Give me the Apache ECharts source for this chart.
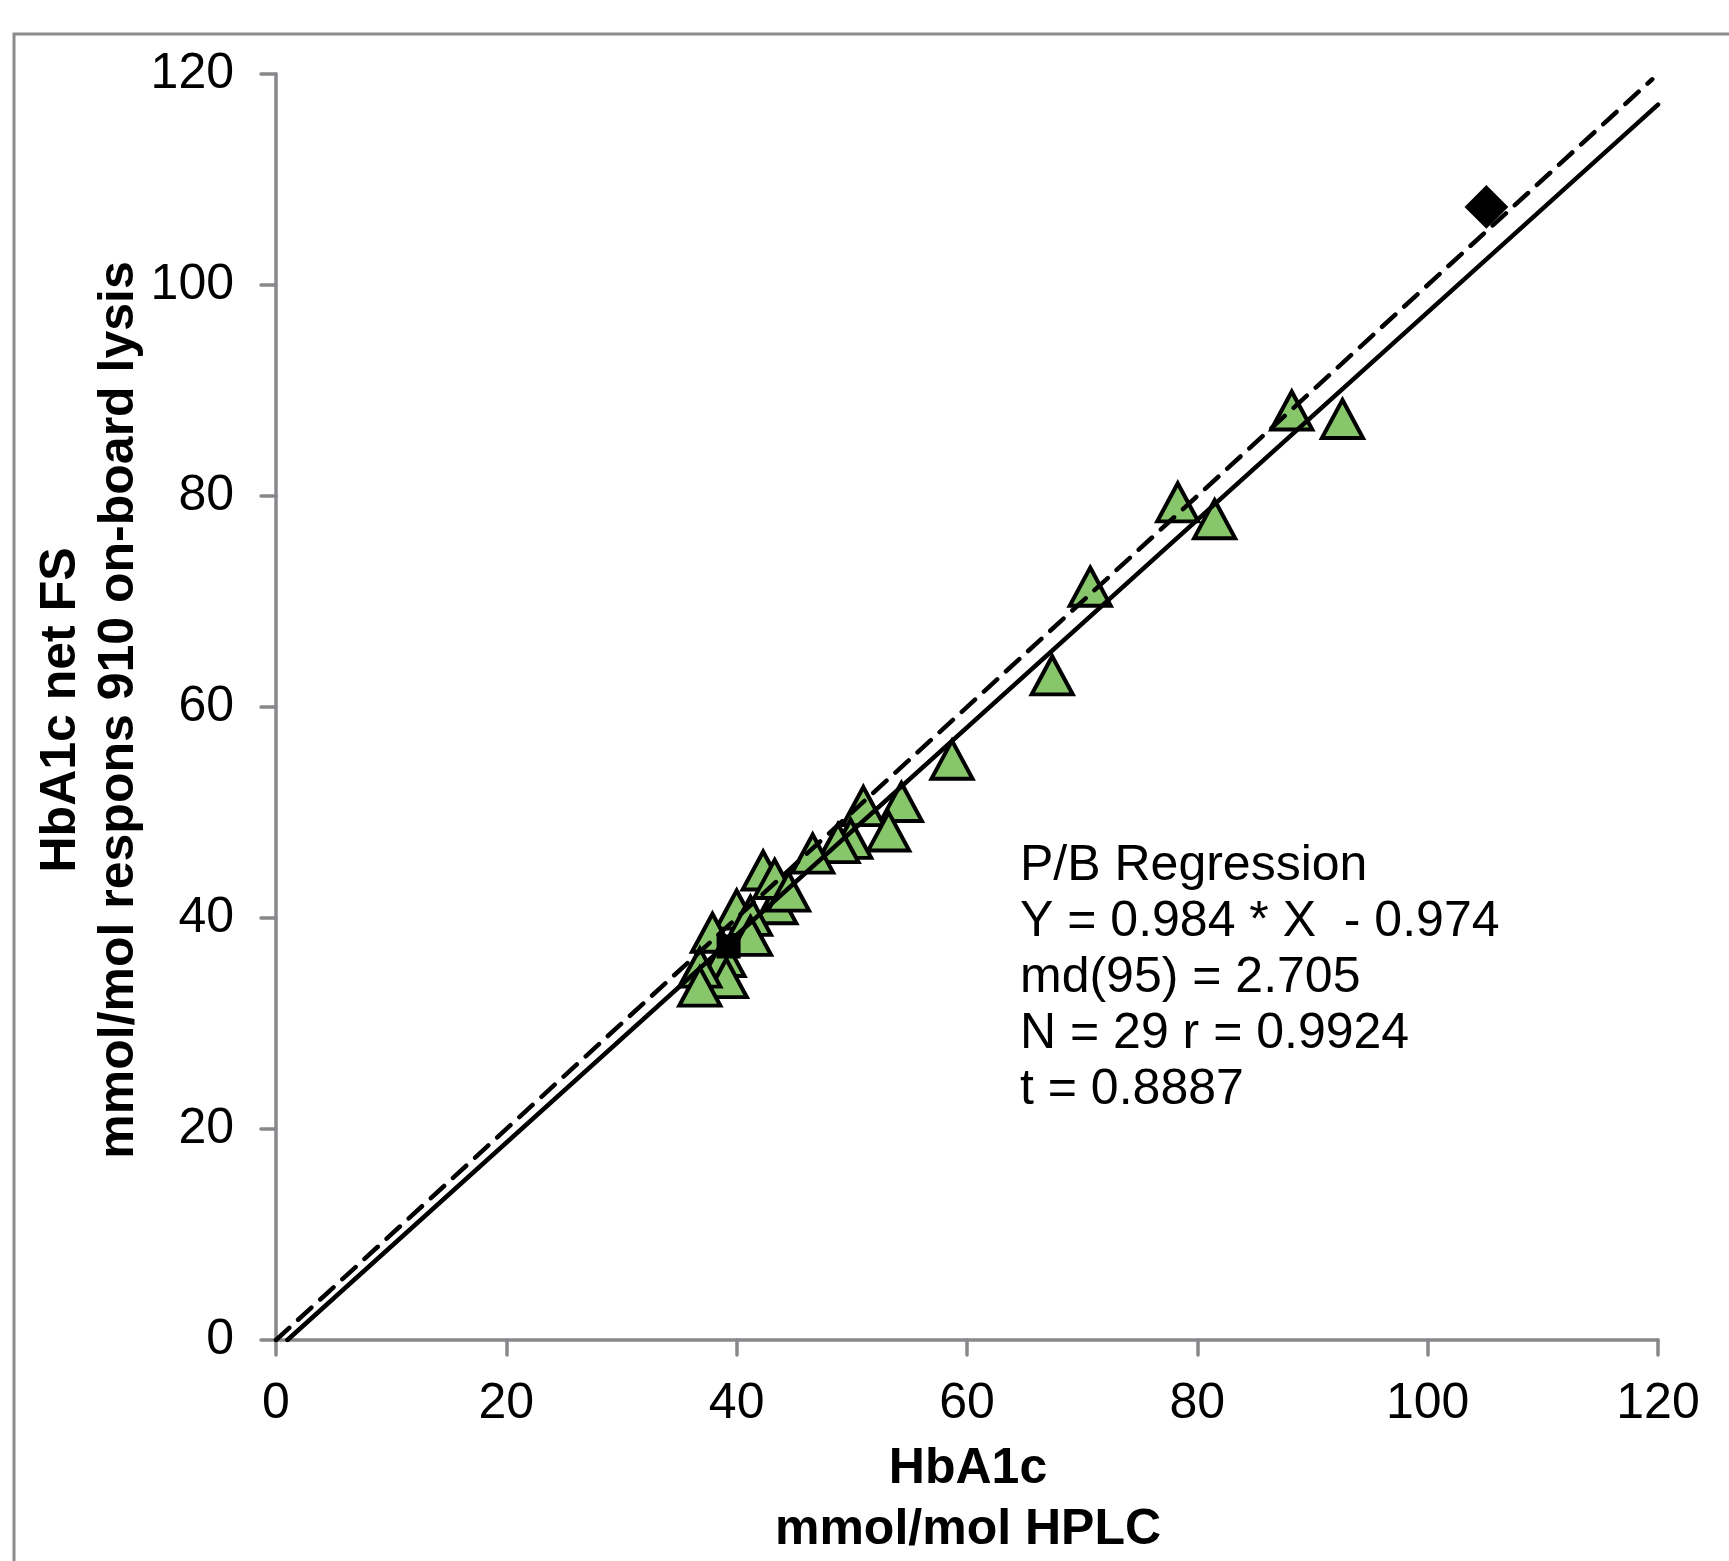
<!DOCTYPE html>
<html>
<head>
<meta charset="utf-8">
<script src="https://cdn.jsdelivr.net/npm/echarts@6/dist/echarts.min.js"></script>
<style>
html,body{margin:0;padding:0;background:#fff;}
#chart{width:1729px;height:1561px;}
</style>
</head>
<body>
<div id="chart"></div>
<script>
// ---- data ----
var xTicks = [0, 20, 40, 60, 80, 100, 120];
var yTicks = [0, 20, 40, 60, 80, 100, 120];
var trianglePoints = [
  [92.6, 87.3], [88.2, 88.1], [81.5, 77.8], [78.3, 79.4], [70.7, 71.4],
  [67.4, 63.0], [58.7, 55.0], [54.3, 51.0], [51.0, 50.6], [53.2, 48.2],
  [49.9, 47.5], [48.8, 47.1], [46.6, 46.1], [43.4, 41.3], [42.3, 44.5],
  [43.3, 43.7], [44.5, 42.5], [40.0, 40.8], [41.2, 40.2], [41.2, 38.3],
  [37.9, 38.6], [38.9, 36.3], [39.1, 34.3], [36.8, 35.3], [36.8, 33.5]
];
var squarePoints = [[39.3, 37.3]];
var diamondPoints = [[105.1, 107.4]];
var identityLine = [[0, 0], [119.5, 119.5]];
var regressionLine = [[0.99, 0], [120, 117.1]];
var xTitle = 'HbA1c\nmmol/mol HPLC';
var yTitle = 'HbA1c net FS\nmmol/mol respons 910 on-board lysis';
var statsLines = ['P/B Regression', 'Y = 0.984 * X  - 0.974', 'md(95) = 2.705', 'N = 29 r = 0.9924', 't = 0.8887'];

var FONT = '"Liberation Sans", Arial, Helvetica, sans-serif';
var AXIS_GRAY = '#88888c';

var chart = echarts.init(document.getElementById('chart'), null, {renderer: 'canvas'});
var axisCommon = {
  type: 'value',
  min: 0, max: 120, interval: 20,
  axisLine: {show: true, onZero: false, lineStyle: {color: AXIS_GRAY, width: 3.5, cap: 'round'}},
  axisTick: {show: true, inside: false, length: 15, lineStyle: {color: AXIS_GRAY, width: 3.5, cap: 'round'}},
  splitLine: {show: false},
  axisLabel: {color: '#000', fontFamily: FONT, fontSize: 50}
};
var option = {
  animation: false,
  backgroundColor: '#fff',
  grid: {left: 276, right: 71, top: 74, bottom: 221, containLabel: false},
  xAxis: Object.assign({}, axisCommon, {
    axisLabel: Object.assign({}, axisCommon.axisLabel, {margin: 39})
  }),
  yAxis: Object.assign({}, axisCommon, {
    axisLabel: Object.assign({}, axisCommon.axisLabel, {margin: 42})
  }),
  graphic: [
    {type: 'rect', z: -10, shape: {x: 14, y: 34, width: 2000, height: 2000},
     style: {fill: 'none', stroke: '#8b8b8f', lineWidth: 3}},
    {type: 'text', x: 968, y: 1500,
     style: {text: xTitle, font: 'bold 50px ' + FONT, fill: '#000', align: 'center', verticalAlign: 'middle', lineHeight: 61}},
    {type: 'text', x: 90, y: 710, rotation: Math.PI / 2,
     style: {text: yTitle, font: 'bold 50px ' + FONT, fill: '#000', align: 'center', verticalAlign: 'middle', lineHeight: 58}},
    {type: 'text', x: 1020, y: 838,
     style: {text: statsLines.join('\n'), font: '50px ' + FONT, fill: '#000', align: 'left', verticalAlign: 'top', lineHeight: 56}}
  ],
  series: [
    {type: 'scatter', data: trianglePoints, symbol: 'triangle', symbolSize: [41, 38],
     itemStyle: {color: '#88c66b', borderColor: '#000', borderWidth: 4, opacity: 1}, silent: true},
    {type: 'line', data: identityLine, showSymbol: false, symbol: 'none', silent: true,
     lineStyle: {color: '#000', width: 4.5, type: [18, 12], cap: 'round', opacity: 1}},
    {type: 'line', data: regressionLine, showSymbol: false, symbol: 'none', silent: true,
     lineStyle: {color: '#000', width: 4.5, type: 'solid', cap: 'round', opacity: 1}},
    {type: 'scatter', data: squarePoints, symbol: 'rect', symbolSize: 22,
     itemStyle: {color: '#000', borderColor: '#000', borderWidth: 2, opacity: 1}, silent: true},
    {type: 'scatter', data: diamondPoints, symbol: 'diamond', symbolSize: 41,
     itemStyle: {color: '#000', borderColor: '#000', borderWidth: 2, opacity: 1}, silent: true}
  ]
};
chart.setOption(option);
</script>
</body>
</html>
